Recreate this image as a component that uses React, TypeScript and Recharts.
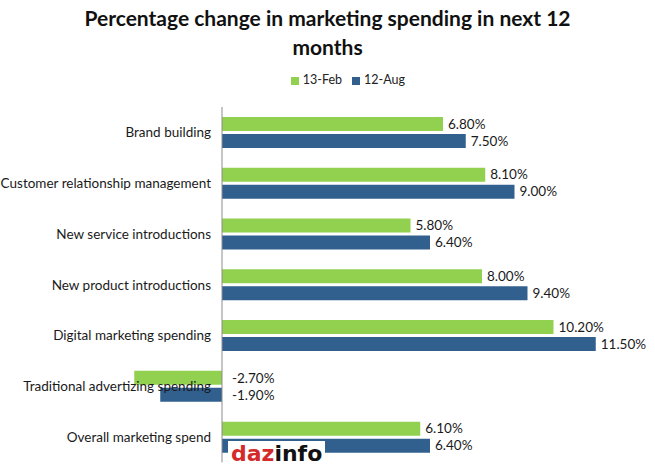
import React from "react";
import { BarChart, Bar, XAxis, YAxis, Legend, ReferenceLine, LabelList } from "recharts";

const categories = [
  "Brand building",
  "Customer relationship management",
  "New service introductions",
  "New product introductions",
  "Digital marketing spending",
  "Traditional advertizing spending",
  "Overall marketing spend",
];
const feb13 = [6.8, 8.1, 5.8, 8.0, 10.2, -2.7, 6.1];
const aug12 = [7.5, 9.0, 6.4, 9.4, 11.5, -1.9, 6.4];
const seriesOrder = ["13-Feb", "12-Aug"];

const data = categories.map((name, i) => ({ name, feb: feb13[i], aug: aug12[i] }));

const COLORS = { green: "#92D050", blue: "#31608F", text: "#1a1a1a", axis: "#8c8c8c" };
const FONT = "Lato, 'Open Sans', sans-serif";

function ValueLabel(props: any) {
  const { x, y, width, height, value } = props;
  const right = Math.max(x, x + width);
  const tx = value < 0 ? right + 10 : right + 5;
  return (
    <text x={tx} y={y + height / 2} dy="0.35em" fontSize={13.5} fill={COLORS.text} fontFamily={FONT}>
      {`${Number(value).toFixed(2)}%`}
    </text>
  );
}

function CategoryLabel(props: any) {
  // drawn on the blue bar's layer so it sits above the bars
  const { x, y, width, index } = props;
  const value = aug12[index];
  const zero = value >= 0 ? Math.min(x, x + width) : Math.max(x, x + width);
  return (
    <text x={zero - 11} y={y - 1.5} dy="0.35em" textAnchor="end" fontSize={13.5} fill={COLORS.text} fontFamily={FONT}>
      {categories[index]}
    </text>
  );
}

export default function App() {
  return (
    <div style={{ position: "absolute", left: 0, top: 0, width: 655, height: 472, background: "#fff" }}>
      <div
        style={{
          position: "absolute", left: 0, top: 3, width: 655, textAlign: "center",
          fontFamily: FONT, fontWeight: 700, fontSize: 21, lineHeight: "29px", color: "#111",
        }}
      >
        Percentage change in marketing spending in next 12
        <br />
        months
      </div>
      <BarChart
        width={655}
        height={472}
        data={data}
        layout="vertical"
        margin={{ top: 92, right: 10.5, left: 10.75, bottom: 9.6 }}
        barSize={14}
        barGap={3}
      >
        <XAxis type="number" domain={[-6.5, 13]} hide />
        <YAxis type="category" dataKey="name" hide />
        <Legend
          verticalAlign="top"
          align="center"
          iconType="square"
          iconSize={8}
          itemSorter={(item: any) => seriesOrder.indexOf(item.value)}
          wrapperStyle={{ top: 72, left: 36, fontSize: 12.5, fontFamily: FONT, color: "#222" }}
          formatter={(v) => <span style={{ color: "#222" }}>{v}</span>}
        />
        <ReferenceLine x={0} stroke={COLORS.axis} strokeWidth={1} />
        <Bar dataKey="feb" name="13-Feb" fill={COLORS.green} isAnimationActive={false}>
          <LabelList dataKey="feb" content={ValueLabel} />
        </Bar>
        <Bar dataKey="aug" name="12-Aug" fill={COLORS.blue} isAnimationActive={false}>
          <LabelList dataKey="aug" content={ValueLabel} />
          <LabelList dataKey="name" content={CategoryLabel} />
        </Bar>
      </BarChart>
      <div
        style={{
          position: "absolute", left: 228, top: 441, padding: "0 3px", background: "#fff",
          fontFamily: "'DejaVu Sans', sans-serif", fontWeight: 700, fontSize: 22, lineHeight: "26px",
        }}
      >
        <span style={{ color: "#d42a2a" }}>daz</span>
        <span style={{ color: "#111" }}>info</span>
      </div>
    </div>
  );
}
